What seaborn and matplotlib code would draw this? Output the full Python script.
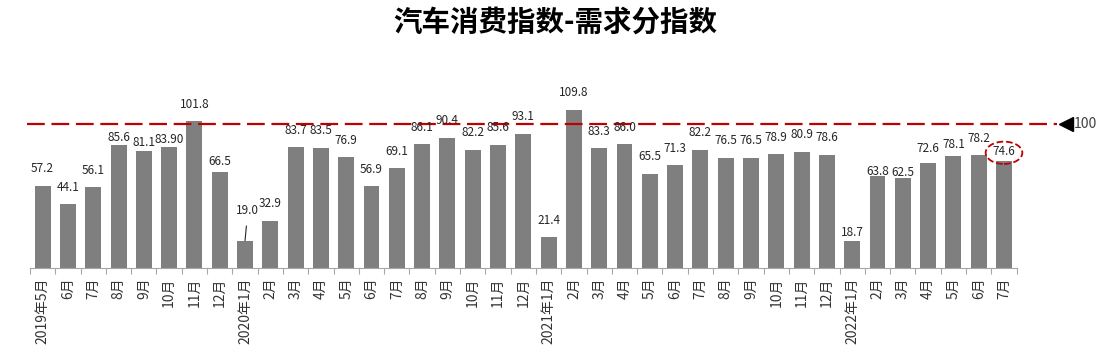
import numpy as np
import pandas as pd
import matplotlib
matplotlib.use("Agg")
import matplotlib.pyplot as plt
from matplotlib.patches import Ellipse
import seaborn as sns

# data
tick_labels = ["2019年5月", "6月", "7月", "8月", "9月", "10月", "11月", "12月",
               "2020年1月", "2月", "3月", "4月", "5月", "6月", "7月", "8月", "9月", "10月", "11月", "12月",
               "2021年1月", "2月", "3月", "4月", "5月", "6月", "7月", "8月", "9月", "10月", "11月", "12月",
               "2022年1月", "2月", "3月", "4月", "5月", "6月", "7月"]
values = [57.2, 44.1, 56.1, 85.6, 81.1, 83.9, 101.8, 66.5,
          19.0, 32.9, 83.7, 83.5, 76.9, 56.9, 69.1, 86.1, 90.4, 82.2, 85.6, 93.1,
          21.4, 109.8, 83.3, 86.0, 65.5, 71.3, 82.2, 76.5, 76.5, 78.9, 80.9, 78.6,
          18.7, 63.8, 62.5, 72.6, 78.1, 78.2, 74.6]
value_text = ["57.2", "44.1", "56.1", "85.6", "81.1", "83.90", "101.8", "66.5",
              "19.0", "32.9", "83.7", "83.5", "76.9", "56.9", "69.1", "86.1", "90.4", "82.2", "85.6", "93.1",
              "21.4", "109.8", "83.3", "86.0", "65.5", "71.3", "82.2", "76.5", "76.5", "78.9", "80.9", "78.6",
              "18.7", "63.8", "62.5", "72.6", "78.1", "78.2", "74.6"]
reference_level = 100
title = "汽车消费指数-需求分指数"

# label nudges (pixels above bar top), default 17
label_gap = {3: 7, 4: 9, 5: 8, 7: 11, 8: 30, 32: 9, 33: 5, 34: 6, 35: 15, 36: 11, 38: 9}

sns.set_style("white")
plt.rcParams["font.family"] = ["Noto Sans CJK SC", "DejaVu Sans"]

df = pd.DataFrame({"idx": np.arange(len(values)), "value": values})

fig = plt.figure(figsize=(11.11, 3.6), dpi=100)
ax = fig.add_axes([30 / 1111, 92 / 360, 1081 / 1111, 180 / 360])

sns.barplot(data=df, x="idx", y="value", color="#7f7f7f", width=0.63,
            saturation=1, ax=ax, edgecolor="none")

ax.set_xlim(-0.5, 42.23)
ax.set_ylim(0, 125)
for s in ["top", "right", "left"]:
    ax.spines[s].set_visible(False)
ax.spines["bottom"].set_bounds(-0.5, len(values) - 0.5)
ax.spines["bottom"].set_color("#a6a6a6")
ax.set_yticks([])
ax.set_xlabel("")
ax.set_ylabel("")

ax.set_xticks(np.arange(len(values)))
ax.set_xticklabels(tick_labels, rotation=90, fontsize=10, color="#333333", va="top")
ax.set_xticks(np.arange(len(values) + 1) - 0.5, minor=True)
ax.tick_params(axis="x", which="major", length=0, pad=7)
ax.tick_params(axis="x", which="minor", length=4, color="#a6a6a6", width=0.8, bottom=True)

# value labels
for i, (v, t) in enumerate(zip(values, value_text)):
    gap = label_gap.get(i, 17) * 0.72
    if i == 8:
        ax.annotate(t, xy=(i, v), xytext=(2, gap), textcoords="offset points",
                    ha="center", va="center", fontsize=8.5, color="#262626",
                    arrowprops=dict(arrowstyle="-", color="#262626", lw=0.8,
                                    shrinkA=4, shrinkB=0))
    else:
        ax.annotate(t, xy=(i, v), xytext=(0, gap), textcoords="offset points",
                    ha="center", va="center", fontsize=8.5, color="#262626")

# reference line at 100
ax.plot([-0.6, 40.1], [reference_level, reference_level], color="#c00000",
        lw=1.6, dashes=(8, 3), clip_on=False)
ax.plot([40.45], [reference_level], marker="<", color="black", markersize=10, clip_on=False)
ax.text(40.75, reference_level, "100", fontsize=10, color="#404040", va="center", ha="left")

# highlight the latest value
ax.add_patch(Ellipse((38, 80), width=1.45, height=15.5, fill=False,
                     edgecolor="#c00000", linestyle="--", lw=1.3, clip_on=False))

fig.text(0.5, 1 - 23 / 360, title, ha="center", va="center", fontsize=20.5,
         fontweight="bold", color="black")

fig.savefig("out.png", dpi=100)
